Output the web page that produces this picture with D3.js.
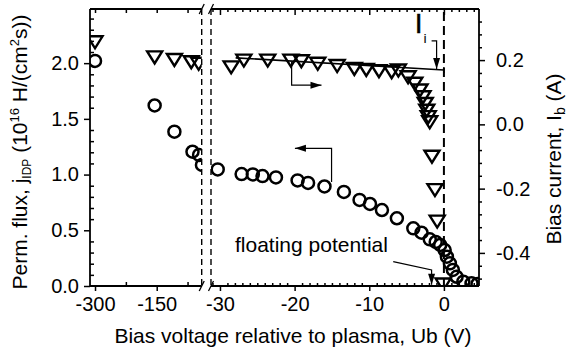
<!DOCTYPE html>
<html><head><meta charset="utf-8">
<script src="https://cdn.jsdelivr.net/npm/d3@7"></script>
<style>
body{margin:0;background:#fff}
text{font-family:"Liberation Sans",Arial,Helvetica,sans-serif;fill:#000}
</style>
</head><body>
<svg id="c" width="567" height="350"></svg>
<script>
// ---------- data ----------
const fluxLeftV = [-300, -155, -107, -63, -47, -40];
const fluxLeftJ = [2.02, 1.62, 1.385, 1.205, 1.176, 1.086];
const currLeftV = [-300, -155, -107, -66, -48];
const currLeftI = [0.257, 0.21, 0.202, 0.195, 0.19];
const fluxRightV = [-30.3, -27.1, -25.6, -24.3, -22.5, -19.6, -18.2, -16.0, -13.4, -11.3, -9.9, -8.3, -6.3, -4.1, -3.0, -1.9, -1.1, -0.5, 0.1, 0.4, 0.8, 1.2, 1.7, 2.6, 3.7, 4.5];
const fluxRightJ = [1.046, 1.005, 1.001, 0.987, 0.974, 0.947, 0.925, 0.893, 0.844, 0.772, 0.736, 0.682, 0.608, 0.518, 0.478, 0.419, 0.395, 0.368, 0.323, 0.263, 0.204, 0.144, 0.083, 0.039, 0.024, 0.018];
const currRightV = [-28.5, -26.8, -23.6, -20.5, -19.1, -16.9, -14.3, -12.0, -10.4, -8.7, -7.0, -6.1, -4.8, -3.9, -3.2, -2.8, -2.5, -2.3, -2.1, -1.9, -1.6, -1.2, -0.9, -0.1];
const currRightI = [0.179, 0.200, 0.200, 0.200, 0.198, 0.190, 0.183, 0.174, 0.171, 0.167, 0.164, 0.169, 0.148, 0.128, 0.107, 0.086, 0.065, 0.044, 0.024, 0.008, -0.099, -0.203, -0.301, -0.497];
const fitV = [-27.9, 0];
const fitI = [0.207, 0.169];
const jTicks = [0, 0.5, 1.0, 1.5, 2.0];
const iTicks = [-0.4, -0.2, 0.0, 0.2];
const xTicksLeft = [-300, -150];
const xTicksRight = [-30, -20, -10, 0];

// ---------- layout ----------
const L = 90, R = 479, T = 9, B = 286, BR1 = 201.7, BR2 = 211;
const svg = d3.select("#c");
const xL = d3.scaleLinear().domain([-312.2, -40.6]).range([L, BR1]);
const xR = d3.scaleLinear().domain([-31.2, 4.7]).range([BR2, R]);
const yJ = d3.scaleLinear().domain([0, 2.486]).range([B, T]);
const yI = d3.scaleLinear().domain([-0.503, 0.359]).range([B, T]);

const defs = svg.append("defs");
defs.append("clipPath").attr("id", "cl").append("rect").attr("x", L).attr("y", T).attr("width", BR1 - L).attr("height", B - T);
defs.append("clipPath").attr("id", "cr").append("rect").attr("x", BR2).attr("y", T).attr("width", R - BR2).attr("height", B - T);

// ---------- axes ----------
const fmt1 = d => d.toFixed(1);
const fmt0 = d => String(d);
function styleAxis(g){ g.select(".domain").remove(); g.selectAll("line").attr("stroke","#000").attr("stroke-width",1.5); g.selectAll("text").style("font-size","20px").attr("font-family",null).attr("fill","#000"); }

// left
svg.append("g").attr("transform",`translate(${L},0)`).call(d3.axisLeft(yJ).tickValues(jTicks).tickFormat(fmt1).tickSize(6).tickPadding(5)).call(styleAxis);
svg.append("g").attr("transform",`translate(${L},0)`).call(d3.axisRight(yJ).tickValues(d3.range(1,25).map(i=>i/10).filter(v=>Math.abs(v*2-Math.round(v*2))>1e-6)).tickFormat("").tickSize(4)).call(styleAxis);
// right
svg.append("g").attr("transform",`translate(${R},0)`).call(d3.axisRight(yI).tickValues(iTicks).tickFormat(fmt1).tickSize(6).tickPadding(11)).call(styleAxis);
svg.append("g").attr("transform",`translate(${R},0)`).call(d3.axisRight(yI).tickValues(d3.range(-12,9).map(i=>i*0.04).filter(v=>v>-0.5&&v<0.36&&Math.abs(v*5-Math.round(v*5))>1e-6)).tickFormat("").tickSize(3)).call(styleAxis);
// bottom
svg.append("g").attr("transform",`translate(0,${B})`).call(d3.axisBottom(xL).tickValues(xTicksLeft).tickFormat(fmt0).tickSize(5).tickPadding(6)).call(styleAxis);
svg.append("g").attr("transform",`translate(0,${B})`).call(d3.axisTop(xL).tickValues([-225,-75]).tickFormat("").tickSize(4)).call(styleAxis);
svg.append("g").attr("transform",`translate(0,${B})`).call(d3.axisBottom(xR).tickValues(xTicksRight).tickFormat(fmt0).tickSize(5).tickPadding(6)).call(styleAxis);
svg.append("g").attr("transform",`translate(0,${B})`).call(d3.axisTop(xR).tickValues(d3.range(-31,5).filter(v=>v%10!==0)).tickFormat("").tickSize(3)).call(styleAxis);
// top
svg.append("g").attr("transform",`translate(0,${T})`).call(d3.axisBottom(xL).tickValues([-300,-225,-150,-75]).tickFormat("").tickSize(4)).call(styleAxis);
svg.append("g").attr("transform",`translate(0,${T})`).call(d3.axisBottom(xR).tickValues(xTicksRight).tickFormat("").tickSize(6)).call(styleAxis);
svg.append("g").attr("transform",`translate(0,${T})`).call(d3.axisBottom(xR).tickValues(d3.range(-31,5).filter(v=>v%10!==0)).tickFormat("").tickSize(3)).call(styleAxis);

// frame
const fr = svg.append("g").attr("stroke","#000").attr("stroke-width",1.8).attr("fill","none");
fr.append("line").attr("x1",L).attr("x2",L).attr("y1",T).attr("y2",B);
fr.append("line").attr("x1",R).attr("x2",R).attr("y1",T).attr("y2",B);
[T,B].forEach(y=>{
  fr.append("line").attr("x1",L).attr("x2",BR1).attr("y1",y).attr("y2",y);
  fr.append("line").attr("x1",BR2).attr("x2",R).attr("y1",y).attr("y2",y);
  [BR1,BR2].forEach(x=>fr.append("line").attr("x1",x-2.5).attr("x2",x+2.5).attr("y1",y+5).attr("y2",y-5).attr("stroke-width",1.3));
});

// dashed lines
const dl = svg.append("g").attr("stroke","#000").attr("fill","none");
[BR1,BR2].forEach(x=>dl.append("line").attr("x1",x).attr("x2",x).attr("y1",T).attr("y2",B).attr("stroke-width",1.4).attr("stroke-dasharray","6,4"));
dl.append("line").attr("x1",xR(0)).attr("x2",xR(0)).attr("y1",T+3).attr("y2",B).attr("stroke-width",2).attr("stroke-dasharray","9,5");

// ---------- marks ----------
const tri = "M-7.5,-5.5L7.5,-5.5L0,6.5Z";
function drawSeg(clip, x, Vs, Js, Vt, It){
  const g = svg.append("g").attr("clip-path",`url(#${clip})`);
  g.selectAll("circle").data(Vs.map((v,i)=>[v,Js[i]])).join("circle")
    .attr("cx",d=>x(d[0])).attr("cy",d=>yJ(d[1])).attr("r",6)
    .attr("fill","none").attr("stroke","#000").attr("stroke-width",2.5);
  g.selectAll("path.t").data(Vt.map((v,i)=>[v,It[i]])).join("path").attr("class","t")
    .attr("d",tri).attr("transform",d=>`translate(${x(d[0])},${yI(d[1])})`)
    .attr("fill","none").attr("stroke","#000").attr("stroke-width",2.4).attr("stroke-linejoin","miter");
  return g;
}
drawSeg("cl", xL, fluxLeftV, fluxLeftJ, currLeftV, currLeftI);
drawSeg("cr", xR, fluxRightV, fluxRightJ, currRightV, currRightI);

// fit line
svg.append("path").datum(fitV.map((v,i)=>[v,fitI[i]]))
  .attr("d",d3.line().x(d=>xR(d[0])).y(d=>yI(d[1]))).attr("stroke","#000").attr("stroke-width",1.6).attr("fill","none");
svg.append("line").attr("x1",xR(fitV[1])).attr("x2",xR(fitV[1])).attr("y1",yI(fitI[1])-3).attr("y2",yI(fitI[1])+3).attr("stroke","#000").attr("stroke-width",1.5);

// ---------- annotations ----------
function arrow(pts, dir){
  svg.append("path").datum(pts).attr("d",d3.line().x(d=>d[0]).y(d=>d[1])).attr("stroke","#000").attr("stroke-width",1.2).attr("fill","none");
  const [x,y] = pts[pts.length-1];
  let h;
  if(dir==="r") h=`M${x},${y}L${x-11},${y-3.5}L${x-11},${y+3.5}Z`;
  if(dir==="l") h=`M${x},${y}L${x+11},${y-3.5}L${x+11},${y+3.5}Z`;
  if(dir==="d") h=`M${x},${y}L${x-3.5},${y-11}L${x+3.5},${y-11}Z`;
  svg.append("path").attr("d",h).attr("fill","#000");
}
arrow([[xR(-20.4),yI(0.195)],[xR(-20.4),yI(0.122)],[xR(-16.4),yI(0.122)]],"r");
arrow([[xR(-15.05),yJ(0.934)],[xR(-15.05),yJ(1.236)],[xR(-19.96),yJ(1.236)]],"l");
arrow([[xR(-1.65),yI(0.26)],[xR(-0.98),yI(0.26)],[xR(-0.98),yI(0.172)]],"d");
arrow([[xR(-6.79),yJ(0.218)],[xR(-1.65),yJ(0.144)],[xR(-1.65),yJ(0.012)]],"d");

svg.append("text").attr("x",235).attr("y",252).style("font-size","21px").text("floating potential");
svg.append("text").attr("x",418.7).attr("y",33).attr("text-anchor","middle").style("font-size","28px").attr("stroke","#000").attr("stroke-width",0.4).text("I");
svg.append("text").attr("x",425).attr("y",43).attr("text-anchor","middle").style("font-size","12px").attr("stroke","#000").attr("stroke-width",0.2).text("i");

// ---------- titles ----------
svg.append("text").attr("x",293).attr("y",343).attr("text-anchor","middle").style("font-size","21px").text("Bias voltage relative to plasma, Ub (V)");
const lt = svg.append("text").attr("transform","translate(27,152) rotate(-90)").attr("text-anchor","middle").style("font-size","21px");
lt.append("tspan").text("Perm. flux, j");
lt.append("tspan").attr("dy",4).style("font-size","12px").text("IDP");
lt.append("tspan").attr("dy",-4).text(" (10");
lt.append("tspan").attr("dy",-8).style("font-size","13px").text("16");
lt.append("tspan").attr("dy",8).text(" H/(cm");
lt.append("tspan").attr("dy",-8).style("font-size","13px").text("2");
lt.append("tspan").attr("dy",8).text("s))");
const rt = svg.append("text").attr("transform","translate(561,159) rotate(-90)").attr("text-anchor","middle").style("font-size","21px");
rt.append("tspan").text("Bias current, I");
rt.append("tspan").attr("dy",4).style("font-size","14px").text("b");
rt.append("tspan").attr("dy",-4).text(" (A)");
</script>
</body></html>
